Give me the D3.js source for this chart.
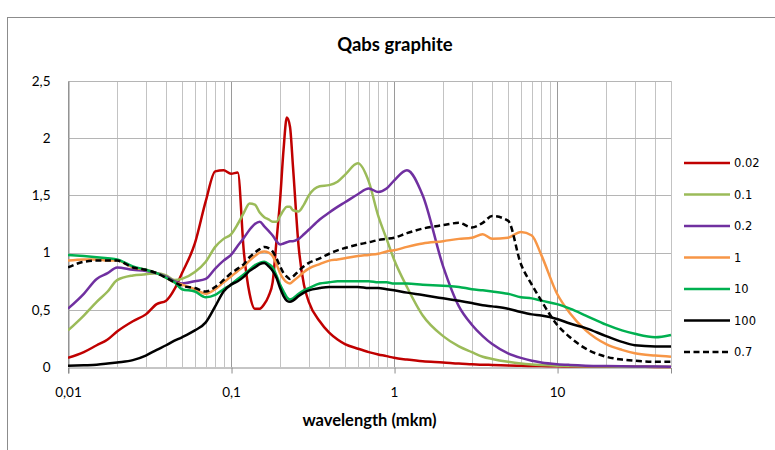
<!DOCTYPE html>
<html><head><meta charset="utf-8">
<script src="https://cdn.jsdelivr.net/npm/d3@7"></script>
<style>body{margin:0;background:#fff}</style>
</head><body>
<svg id="chart" width="775" height="450"></svg>
<script>
const wavelengths = [0.01,0.0125,0.015,0.0175,0.02,0.025,0.03,0.035,0.04,0.045,0.05,0.06,0.07,0.08,0.09,0.1,0.11,0.12,0.13,0.14,0.15,0.16,0.17,0.18,0.19,0.2,0.21,0.22,0.23,0.24,0.26,0.28,0.3,0.35,0.4,0.45,0.5,0.6,0.7,0.8,0.9,1,1.2,1.5,2,2.5,3,3.5,4,5,6,7,8,10,12,15,20,25,30,40,50];
const q0_02 = [.08,.13,.19,.24,.31,.40,.46,.55,.58,.68,.82,1.08,1.45,1.71,1.72,1.69,1.70,1.0,.64,.51,.51,.55,.62,.74,1.1,1.46,1.9,2.18,2.1,1.75,1.05,.72,.57,.4,.3,.24,.2,.16,.13,.11,.095,.08,.065,.05,.04,.03,.025,.02,.018,.014,.011,.009,.008,.006,.005,.004,.003,.002,.002,.001,.001];
const q0_1 = [.32,.45,.57,.66,.76,.80,.81,.82,.80,.76,.77,.83,.92,1.05,1.12,1.16,1.25,1.35,1.43,1.42,1.35,1.31,1.29,1.27,1.27,1.32,1.37,1.40,1.40,1.37,1.36,1.42,1.50,1.58,1.59,1.62,1.68,1.78,1.62,1.32,1.12,.94,.70,.45,.27,.18,.13,.09,.07,.045,.03,.022,.017,.011,.008,.006,.004,.003,.002,.002,.001];
const q0_2 = [.51,.64,.77,.82,.87,.85,.84,.82,.79,.75,.73,.75,.77,.86,.93,.98,1.06,1.13,1.20,1.25,1.27,1.23,1.19,1.15,1.10,1.07,1.08,1.09,1.10,1.10,1.12,1.16,1.20,1.29,1.35,1.40,1.44,1.51,1.56,1.53,1.56,1.63,1.72,1.50,.88,.53,.37,.27,.20,.12,.08,.055,.04,.025,.018,.012,.008,.006,.005,.004,.003];
const q1 = [.93,.94,.94,.93,.93,.87,.85,.82,.78,.74,.72,.68,.64,.68,.74,.79,.84,.88,.93,.97,1.00,1.01,1.00,.97,.90,.82,.77,.74,.73,.75,.79,.83,.86,.90,.93,.94,.95,.97,.98,.99,1.01,1.02,1.05,1.08,1.10,1.12,1.13,1.16,1.12,1.13,1.18,1.15,.98,.64,.47,.32,.20,.15,.12,.10,.09];
const q10 = [.98,.97,.96,.95,.94,.88,.85,.82,.78,.74,.68,.66,.61,.63,.68,.72,.77,.81,.85,.89,.91,.92,.90,.87,.80,.72,.66,.61,.59,.60,.64,.67,.69,.73,.74,.75,.75,.75,.75,.74,.74,.73,.73,.72,.71,.70,.68,.67,.66,.64,.61,.60,.58,.55,.51,.45,.37,.32,.29,.26,.28];
const q100 = [.01,.015,.02,.03,.04,.06,.10,.15,.19,.23,.26,.32,.39,.53,.66,.72,.75,.79,.84,.87,.90,.91,.88,.84,.78,.69,.62,.58,.57,.58,.62,.65,.67,.69,.70,.70,.70,.70,.69,.69,.68,.67,.65,.63,.60,.58,.56,.54,.53,.51,.48,.46,.45,.42,.38,.34,.27,.22,.19,.18,.18];
const q0_7 = [.87,.92,.93,.93,.93,.87,.85,.82,.78,.74,.71,.69,.66,.70,.76,.82,.86,.90,.96,1.00,1.03,1.05,1.04,1.01,.95,.88,.82,.79,.77,.79,.84,.88,.91,.95,.99,1.02,1.04,1.07,1.09,1.11,1.12,1.13,1.17,1.21,1.24,1.26,1.22,1.26,1.32,1.28,.90,.72,.58,.37,.26,.16,.09,.065,.055,.046,.045];
const seriesNames = ["0.02","0.1","0.2","1","10","100","0.7"];
const xTickValues = [0.01,0.1,1,10];
const xTickLabels = ["0,01","0,1","1","10"];
const yTickValues = [0,0.5,1,1.5,2,2.5];
const yTickLabels = ["0","0,5","1","1,5","2","2,5"];

const seriesValues = [q0_02,q0_1,q0_2,q1,q10,q100,q0_7];
const colors = ["#c00000","#9bbb59","#7030a0","#f79646","#00b050","#000000","#000000"];
const dashes = [null,null,null,null,null,null,"6,3.5"];

const svg = d3.select("#chart");
const plot = {left:68, right:671, top:81, bottom:367};
const x = d3.scaleLog().domain([0.01,50]).range([plot.left, plot.right]);
const y = d3.scaleLinear().domain([0,2.5]).range([plot.bottom, plot.top]);

// outer frame
svg.append("rect").attr("x",7.5).attr("y",17.5).attr("width",900).attr("height",600)
  .attr("fill","none").attr("stroke","#8c8c8c").attr("stroke-width",1);

// title
svg.append("text").attr("x",395).attr("y",51).attr("text-anchor","middle")
  .attr("font-family","Lato").attr("font-weight","bold").attr("font-size",18.5)
  .attr("fill","#000").text("Qabs graphite");

// vertical grid
const minor = [];
[0.01,0.1,1,10].forEach(d=>{for(let k=1;k<=9;k++){const v=+(k*d).toPrecision(3); if(v<=50.0001) minor.push(v);}});
const g = svg.append("g");
g.selectAll("line.vg").data(minor).enter().append("line")
  .attr("x1",d=>Math.round(x(d))+0.5).attr("x2",d=>Math.round(x(d))+0.5)
  .attr("y1",plot.top).attr("y2",plot.bottom)
  .attr("stroke",d=>xTickValues.includes(d)?"#9a9a9a":"#c3c3c3").attr("stroke-width",1);
g.selectAll("line.hg").data(yTickValues.filter(v=>v>0)).enter().append("line")
  .attr("x1",plot.left).attr("x2",plot.right)
  .attr("y1",d=>Math.round(y(d))+0.5).attr("y2",d=>Math.round(y(d))+0.5)
  .attr("stroke","#b5b5b5").attr("stroke-width",1);

// x axis
const xAxis = d3.axisBottom(x).tickValues(xTickValues).tickFormat((d,i)=>xTickLabels[i]).tickSize(6).tickPadding(14);
const gx = svg.append("g").attr("transform",`translate(0,${Math.round(plot.bottom)+0.5})`).call(xAxis);
gx.select(".domain").attr("stroke","#8c8c8c");
gx.selectAll(".tick line").attr("stroke","#8c8c8c").attr("transform","translate(0.5,0)");
gx.selectAll("text").attr("font-family","Lato").attr("font-size",13.5).attr("fill","#000");

// y axis
const yAxis = d3.axisLeft(y).tickValues(yTickValues).tickFormat((d,i)=>yTickLabels[i]).tickSize(0).tickPadding(18);
const gy = svg.append("g").attr("transform",`translate(${plot.left+0.5},0)`).call(yAxis);
gy.select(".domain").attr("stroke","#8c8c8c");
gy.selectAll("text").attr("font-family","Lato").attr("font-size",13.5).attr("fill","#000");

// axis title
svg.append("text").attr("x",(plot.left+plot.right)/2).attr("y",426).attr("text-anchor","middle")
  .attr("font-family","Lato").attr("font-weight","bold").attr("font-size",16.5)
  .attr("fill","#000").text("wavelength (mkm)");

// lines
const line = d3.line().x(d=>x(d[0])).y(d=>y(d[1])).curve(d3.curveMonotoneX);
const clip = svg.append("clipPath").attr("id","clp").append("rect")
  .attr("x",plot.left).attr("y",plot.top-10).attr("width",plot.right-plot.left+1).attr("height",plot.bottom-plot.top+12);
const lg = svg.append("g").attr("clip-path","url(#clp)");
seriesValues.forEach((vals,i)=>{
  const pts = wavelengths.map((w,j)=>[w,vals[j]]);
  lg.append("path").datum(pts).attr("d",line).attr("fill","none")
    .attr("stroke",colors[i]).attr("stroke-width",2.5)
    .attr("stroke-dasharray",dashes[i]).attr("stroke-linejoin","round");
});

// legend
const leg = svg.append("g");
seriesNames.forEach((n,i)=>{
  const yy = 163 + i*31.5;
  leg.append("line").attr("x1",684).attr("x2",730).attr("y1",yy).attr("y2",yy)
    .attr("stroke",colors[i]).attr("stroke-width",2.5).attr("stroke-dasharray",dashes[i]);
  leg.append("text").attr("x",734).attr("y",yy).attr("dy","0.35em")
    .attr("font-family","DejaVu Sans").attr("font-size",11.5).attr("fill","#000").text(n);
});
</script>
</body></html>
